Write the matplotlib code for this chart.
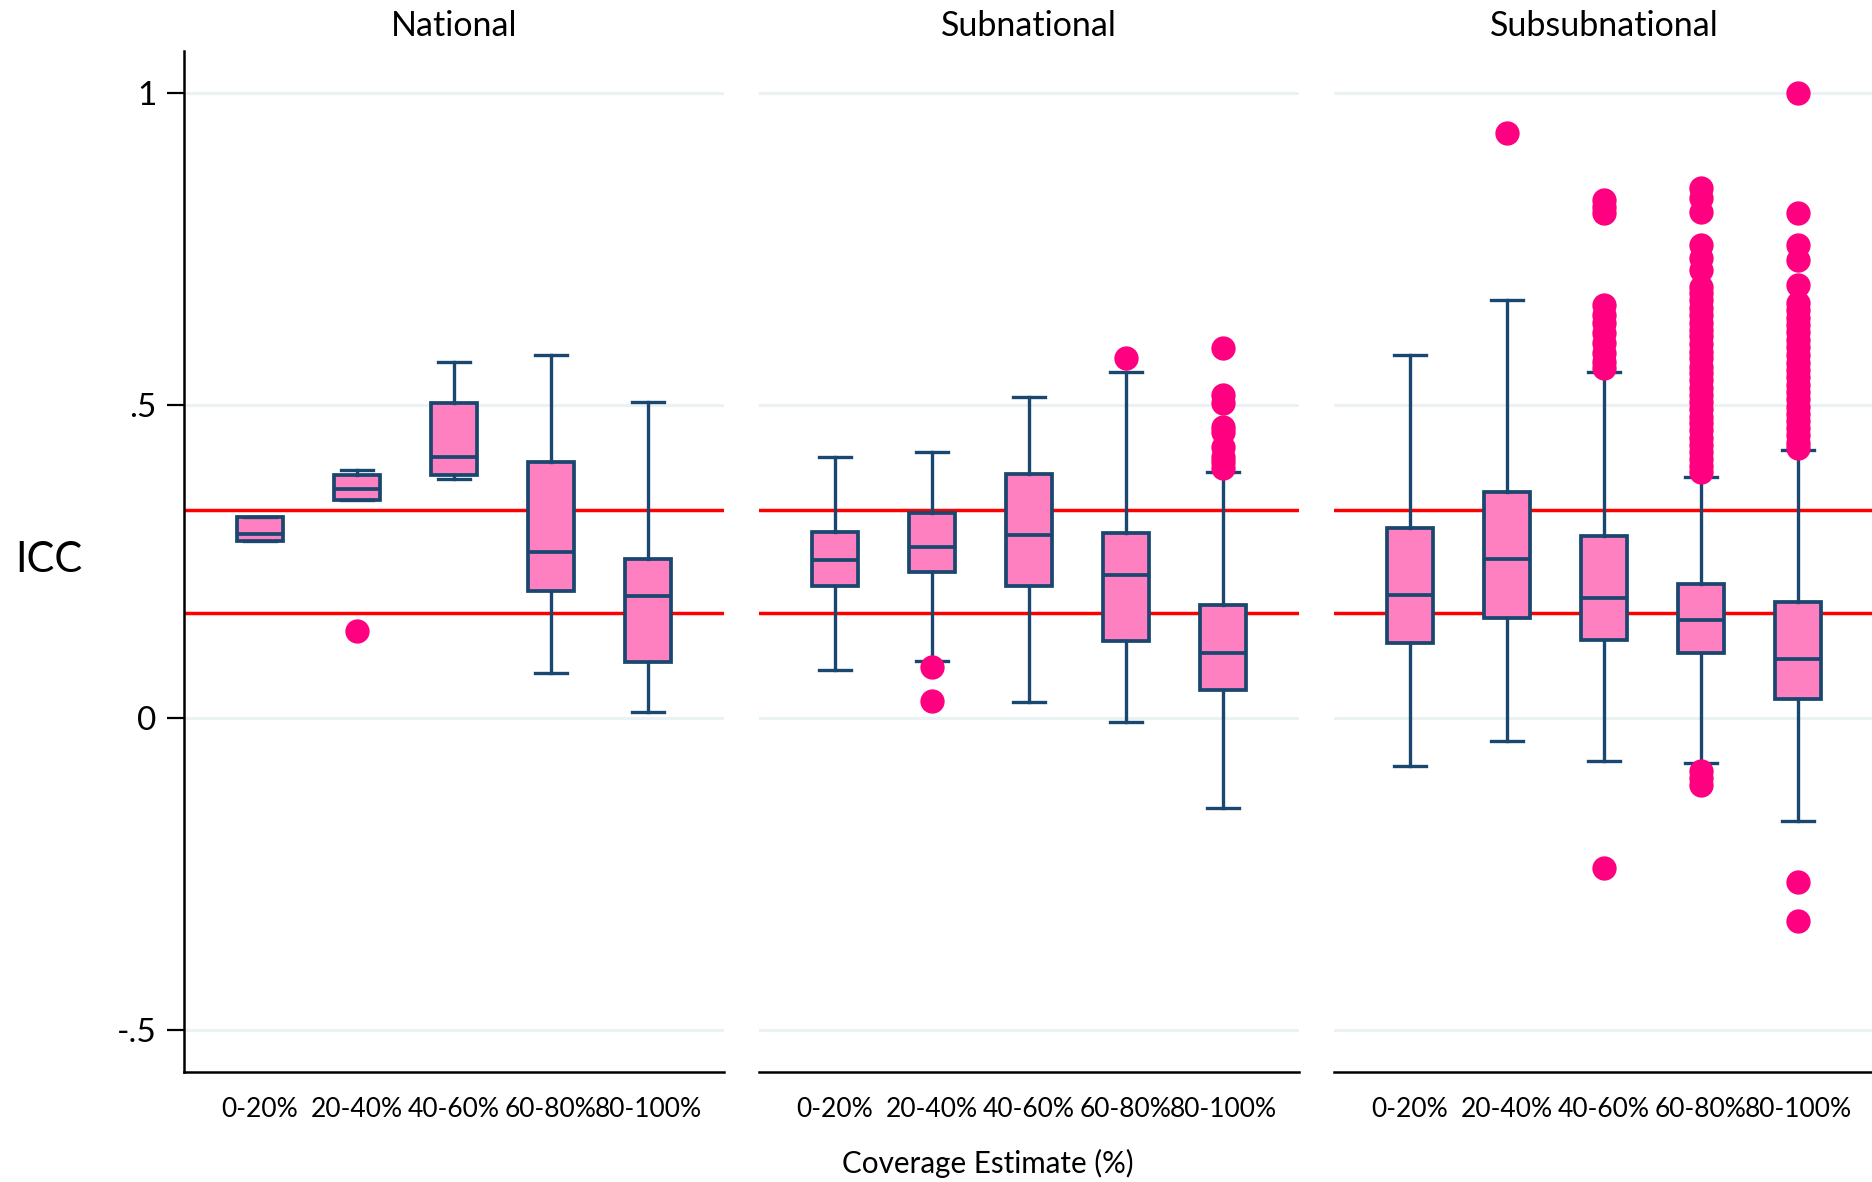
import matplotlib
matplotlib.use("Agg")
import matplotlib.pyplot as plt

plt.rcParams['font.family'] = ['Lato', 'DejaVu Sans']

categories = ['0-20%', '20-40%', '40-60%', '60-80%', '80-100%']
panel_titles = ['National', 'Subnational', 'Subsubnational']
ref_lines = [0.333, 0.167]

# ICC summaries per coverage bin: median, quartiles, whisker ends, outliers
nat_med = [0.294, 0.366, 0.418, 0.266, 0.194]
nat_q1 = [0.283, 0.348, 0.389, 0.202, 0.089]
nat_q3 = [0.321, 0.389, 0.503, 0.410, 0.254]
nat_lo = [0.283, 0.348, 0.382, 0.072, 0.009]
nat_hi = [0.321, 0.396, 0.569, 0.580, 0.505]
nat_out = [[], [0.139], [], [], []]

sub_med = [0.252, 0.274, 0.293, 0.229, 0.103]
sub_q1 = [0.210, 0.233, 0.210, 0.122, 0.045]
sub_q3 = [0.297, 0.328, 0.390, 0.296, 0.180]
sub_lo = [0.076, 0.091, 0.025, -0.007, -0.144]
sub_hi = [0.417, 0.426, 0.514, 0.554, 0.393]
sub_out = [[], [0.081, 0.026], [], [0.576],
           [0.592, 0.516, 0.503, 0.465, 0.457, 0.433, 0.417, 0.409, 0.400]]

ssub_med = [0.197, 0.254, 0.191, 0.156, 0.094]
ssub_q1 = [0.120, 0.160, 0.124, 0.104, 0.030]
ssub_q3 = [0.303, 0.361, 0.291, 0.214, 0.185]
ssub_lo = [-0.078, -0.037, -0.069, -0.072, -0.165]
ssub_hi = [0.581, 0.669, 0.553, 0.386, 0.429]
ssub_out = [
    [],
    [0.936],
    [0.828, 0.817, 0.807, 0.660, 0.645, 0.631, 0.615, 0.599, 0.583,
     0.570, 0.560, -0.241],
    [0.847, 0.831, 0.809, 0.756, 0.735, 0.716, 0.690, 0.679, 0.668,
     0.655, 0.645, 0.632, 0.620, 0.611, 0.598, 0.586, 0.575, 0.562,
     0.551, 0.540, 0.528, 0.517, 0.505, 0.494, 0.482, 0.471, 0.460,
     0.448, 0.437, 0.425, 0.414, 0.403, 0.394, -0.086, -0.097, -0.108],
    [0.999, 0.808, 0.756, 0.732, 0.692, 0.663, 0.652, 0.640, 0.628,
     0.617, 0.604, 0.593, 0.580, 0.568, 0.556, 0.545, 0.533, 0.521,
     0.510, 0.498, 0.486, 0.475, 0.463, 0.452, 0.440, 0.432,
     -0.263, -0.326],
]

panels = [
    (nat_med, nat_q1, nat_q3, nat_lo, nat_hi, nat_out),
    (sub_med, sub_q1, sub_q3, sub_lo, sub_hi, sub_out),
    (ssub_med, ssub_q1, ssub_q3, ssub_lo, ssub_hi, ssub_out),
]

NAVY = '#1a476f'
PINK = '#ff80c0'
DOT = '#ff0080'
GRID = '#eaf2f3'

W, H = 1872, 1182
fig = plt.figure(figsize=(W / 100, H / 100), dpi=100)

left_px = [184, 759, 1334]
width_px = 540
top_px, bottom_px = 51, 1072

for i, (title, data) in enumerate(zip(panel_titles, panels)):
    med, q1, q3, lo, hi, out = data
    ax = fig.add_axes([left_px[i] / W, 1 - bottom_px / H,
                       width_px / W, (bottom_px - top_px) / H])
    stats = []
    for k in range(len(categories)):
        stats.append(dict(med=med[k], q1=q1[k], q3=q3[k],
                          whislo=lo[k], whishi=hi[k], fliers=out[k]))
    ax.bxp(stats, positions=range(1, 6), widths=0.48, capwidths=0.33,
           patch_artist=True,
           boxprops=dict(facecolor=PINK, edgecolor=NAVY, linewidth=2.7),
           medianprops=dict(color=NAVY, linewidth=2.7),
           whiskerprops=dict(color=NAVY, linewidth=2.4),
           capprops=dict(color=NAVY, linewidth=2.4),
           flierprops=dict(marker='o', markerfacecolor=DOT,
                           markeredgecolor=DOT, markeredgewidth=0,
                           markersize=17.5),
           zorder=3)
    for v in ref_lines:
        ax.axhline(v, color='#ff0000', linewidth=2.5, zorder=2)

    ax.set_xlim(0.216, 5.784)
    ax.set_ylim(-0.567, 1.067)
    ax.set_yticks([-0.5, 0, 0.5, 1])
    ax.set_yticklabels(['-.5', '0', '.5', '1'])
    ax.yaxis.grid(True, color=GRID, linewidth=2.2)
    ax.set_axisbelow(True)
    ax.set_xticks(range(1, 6))
    ax.set_xticklabels(categories, fontsize=19)
    ax.tick_params(axis='x', length=0, pad=18)
    ax.tick_params(axis='y', length=12, width=1.6, labelsize=24, pad=8)
    for side in ['top', 'right']:
        ax.spines[side].set_visible(False)
    ax.spines['bottom'].set_linewidth(1.8)
    ax.spines['left'].set_linewidth(1.8)
    if i > 0:
        ax.spines['left'].set_visible(False)
        ax.tick_params(axis='y', left=False, labelleft=False)
    ax.set_title(title, fontsize=24.5, pad=11)

fig.text(49 / W, 1 - 560 / H, 'ICC', fontsize=30, ha='center', va='center')
fig.text(988 / W, 1 - 1163 / H, 'Coverage Estimate (%)', fontsize=21.3,
         ha='center', va='center')

fig.savefig('out.png', dpi=100)
